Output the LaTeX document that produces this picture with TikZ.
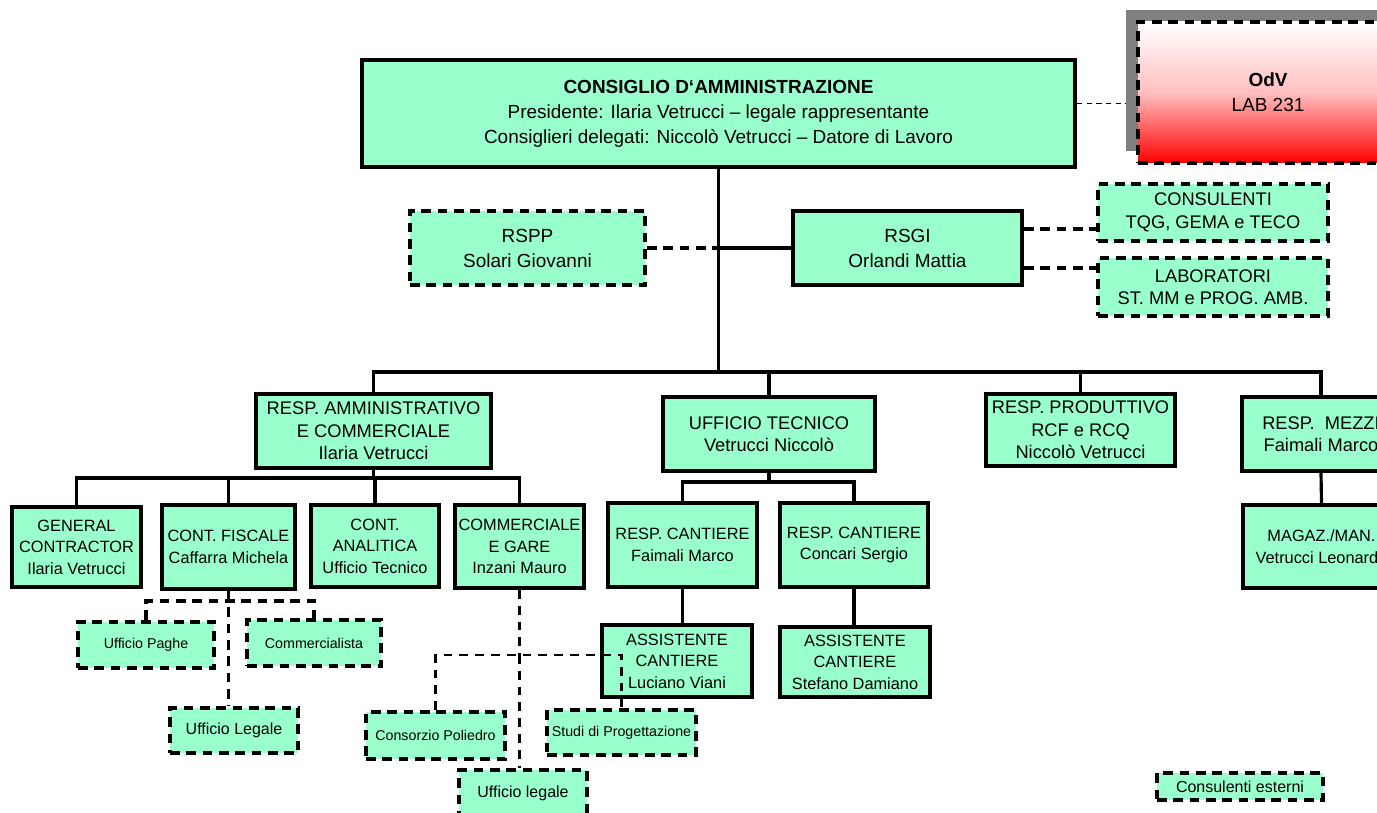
\documentclass[tikz,border=0pt]{standalone}
\usepackage{fontspec}
\setmainfont{Liberation Sans}
\definecolor{mint}{RGB}{153,255,204}

\begin{document}
\begin{tikzpicture}[x=0.02cm,y=-0.02cm,
	box/.style={draw,line width=2.2pt,fill=mint,align=center,inner sep=0pt},
	dline/.style={line width=2.2pt,dash pattern=on 5.5pt off 3.8pt},
	dbox/.style={box,dline},
	dims/.style 2 args={minimum width=#1*0.02cm,minimum height=#2*0.02cm},
	conn/.style={line width=1.8pt},
	tline/.style={line width=1.3pt,dash pattern=on 5pt off 4pt},
	fine/.style={line width=0.5pt,dash pattern=on 3pt off 2.5pt},
	fcda/.style={font=\fontsize{10.8}{14.2}\selectfont},
	fmid/.style={font=\fontsize{10.4}{12.8}\selectfont},
	fsub/.style={font=\fontsize{9.3}{12.2}\selectfont},
	fext/.style={font=\fontsize{8.1}{10}\selectfont},
	fextb/.style={font=\fontsize{9.1}{11}\selectfont}]
	\clip (0,0) rectangle (1377,813);
	
	%TOP
	\node[box,dims={713}{107},fcda] (cda) at (718.5,113.5) {\textbf{CONSIGLIO D‘AMMINISTRAZIONE}\\Presidente: Ilaria Vetrucci -- legale rappresentante\\Consiglieri delegati: Niccolò Vetrucci -- Datore di Lavoro};
	\node[fill=gray,dims={260}{141}] (odvsh) at (1256,80.5) {};
	\node[draw,dline,top color=white,bottom color=red,middle color=red!25,align=center,dims={260}{141},fcda] (odv) at (1268,92.5) {\textbf{OdV}\\LAB 231};
	\draw[fine] ([yshift=0.2cm]cda.east) -- ([yshift=0.2cm]cda.east -| odvsh.west);
	
	%STAFF
	\node[dbox,dims={235}{74},fcda] (rspp) at (527.5,248) {RSPP\\Solari Giovanni};
	\node[box,dims={229}{74},fcda] (rsgi) at (907.5,248) {RSGI\\Orlandi Mattia};
	\node[dbox,dims={230}{57},fmid] (cons) at (1213,212.5) {CONSULENTI\\TQG, GEMA e TECO};
	\node[dbox,dims={230}{58},fmid] (lab) at (1213,287) {LABORATORI\\ST. MM e PROG. AMB.};
	
	\coordinate (bus) at (718.5,372);
	\draw[conn] (cda.south) -- (bus);
	\draw[dline] (rspp.east) -- (rspp.east -| cda.south);
	\draw[conn] (rsgi.west) -- (rsgi.west -| cda.south);
	\draw[dline] (rsgi.east) ++(0,-19) coordinate (r1) -- (r1 -| cons.west);
	\draw[dline] (rsgi.east) ++(0,20) coordinate (r2) -- (r2 -| lab.west);
	
	%SECOND LEVEL
	\node[box,dims={235}{74},fmid] (ramm) at (373.5,431) {RESP. AMMINISTRATIVO\\E COMMERCIALE\\Ilaria Vetrucci};
	\node[box,dims={212}{74},fmid] (utec) at (769,434) {UFFICIO TECNICO\\Vetrucci Niccolò};
	\node[box,dims={189}{72},fmid] (rprod) at (1080.5,430) {RESP. PRODUTTIVO\\RCF e RCQ\\Niccolò Vetrucci};
	\node[box,dims={158}{74},fmid] (rmezzi) at (1321,434) {RESP.~ MEZZI\\Faimali Marco};
	
	\draw[conn] (ramm.north) |- (bus) -| (rmezzi.north);
	\draw[conn] (utec.north) -- (utec.north |- bus);
	\draw[conn] (rprod.north) -- (rprod.north |- bus);
	
	%THIRD LEVEL
	\node[box,dims={129}{80},fsub] (gc) at (76.5,547) {GENERAL\\CONTRACTOR\\Ilaria Vetrucci};
	\node[box,dims={133}{84},fsub] (cfisc) at (228.5,547) {CONT. FISCALE\\Caffarra Michela};
	\node[box,dims={128}{82},fsub] (canal) at (375,546) {CONT.\\ANALITICA\\Ufficio Tecnico};
	\node[box,dims={129}{83},fsub] (comm) at (519.5,546.5) {COMMERCIALE\\E GARE\\Inzani Mauro};
	\node[box,dims={149}{84},fsub] (rc1) at (682.5,545) {RESP. CANTIERE\\Faimali Marco};
	\node[box,dims={148}{84},fsub] (rc2) at (854,545) {RESP. CANTIERE\\Concari Sergio};
	\node[box,dims={157}{83},fsub] (magaz) at (1321.5,546.5) {MAGAZ./MAN.\\Vetrucci Leonardo};
	
	\draw[conn] (ramm.south) -- ++(0,8) coordinate (ab);
	\draw[conn] (gc.north) |- (ab) -| (comm.north);
	\draw[conn] (cfisc.north) -- (cfisc.north |- ab);
	\draw[conn] (canal.north) -- (canal.north |- ab);
	\draw[conn] (utec.south) -- ++(0,9) coordinate (ub);
	\draw[conn] (rc1.north) |- (ub) -| (rc2.north);
	\draw[conn] (rmezzi.south) -- (magaz.north);
	
	%FOURTH LEVEL
	\node[box,dims={150}{72},fsub] (as1) at (677,661) {ASSISTENTE\\CANTIERE\\Luciano Viani};
	\node[box,dims={150}{70},fsub] (as2) at (855,662) {ASSISTENTE\\CANTIERE\\Stefano Damiano};
	\draw[conn] (rc1.south) -- (rc1.south |- as1.north);
	\draw[conn] (rc2.south) -- (rc2.south |- as2.north);
	
	%EXTERNAL
	\node[dbox,dims={136}{46},fext] (paghe) at (146,645) {Ufficio Paghe};
	\node[dbox,dims={134}{46},fext] (commerc) at (314,643) {Commercialista};
	\node[dbox,dims={128}{45},fextb] (uleg) at (234,730.5) {Ufficio Legale};
	\draw[dline] (cfisc.south) -- (cfisc.south |- uleg.north);
	\draw[dline] (paghe.north) -- ++(0,-19) -| (commerc.north);
	
	\node[dbox,dims={139}{47},fext] (poli) at (435.5,735.5) {Consorzio Poliedro};
	\node[dbox,dims={149}{45},fext] (studi) at (621.5,732.5) {Studi di Progettazione};
	\node[dbox,dims={128}{46},fextb] (uleg2) at (523,793) {Ufficio legale};
	\draw[tline] (comm.south) -- ++(0,65) coordinate (cb);
	\draw[tline] (poli.north) |- (cb) -| (studi.north);
	\draw[tline] (cb) -- (cb |- uleg2.north);
	
	%LEGEND
	\node[dbox,dims={166}{27},fextb] (leg) at (1240,786.5) {Consulenti esterni};
\end{tikzpicture}
\end{document}
